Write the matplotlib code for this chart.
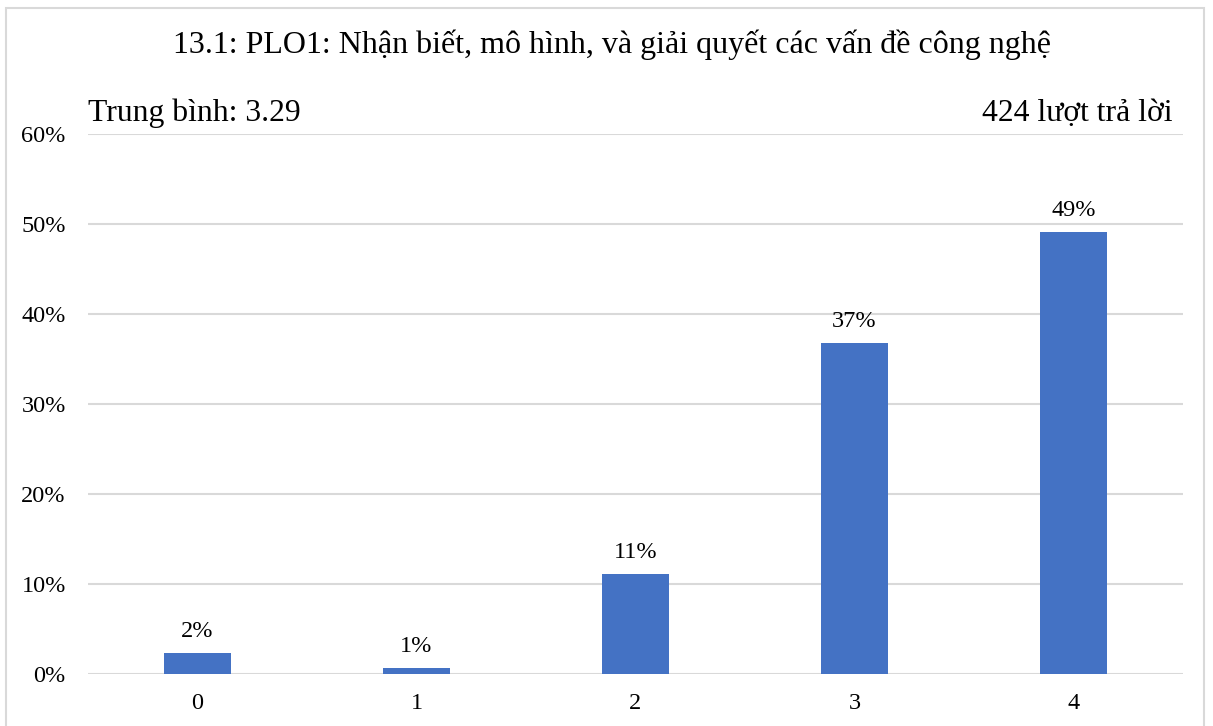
import matplotlib.pyplot as plt
from matplotlib.patches import Rectangle
from matplotlib.ticker import PercentFormatter

# responses per score (0..4)
scores = ["0", "1", "2", "3", "4"]
counts = [10, 3, 47, 156, 208]

title = "13.1: PLO1: Nhận biết, mô hình, và giải quyết các vấn đề công nghệ"
total = sum(counts)
shares = [c / total for c in counts]
mean = sum(int(s) * c for s, c in zip(scores, counts)) / total

plt.rcParams['font.family'] = ['Liberation Serif', 'DejaVu Serif']

fig = plt.figure(figsize=(12.13, 7.26), dpi=100)
ax = fig.add_axes([88 / 1213, 52 / 726, 1095 / 1213, 540 / 726])

bars = ax.bar(scores, shares, width=0.31, color="#4472C4", zorder=3)
for b, v in zip(bars, shares):
    ax.annotate(f"{v:.0%}", (b.get_x() + b.get_width() / 2, v),
                xytext=(0, 8), textcoords="offset points",
                ha="center", va="bottom", fontsize=17.5)

ax.set_ylim(0, 0.6)
ax.set_yticks([0, 0.1, 0.2, 0.3, 0.4, 0.5, 0.6])
ax.yaxis.set_major_formatter(PercentFormatter(1.0, decimals=0))
ax.set_xlim(-0.5, 4.5)
ax.grid(axis="y", color="#d9d9d9", linewidth=1.5, zorder=0)
for s in ax.spines.values():
    s.set_visible(False)
ax.tick_params(length=0, labelsize=17.5)
ax.tick_params(axis="y", pad=16)
ax.tick_params(axis="x", pad=14)

fig.text(612 / 1213, 1 - 45 / 726, title, ha="center", va="center", fontsize=23)
fig.text(88 / 1213, 1 - 113 / 726, f"Trung bình: {int(mean * 100) / 100:.2f}",
         ha="left", va="center", fontsize=22.8)
fig.text(1172 / 1213, 1 - 113 / 726, f"{total} lượt trả lời",
         ha="right", va="center", fontsize=22.8)

# light frame round the chart
fig.patches.append(Rectangle((6 / 1213, -0.05), 1198 / 1213, 1.05 - 8 / 726,
                             transform=fig.transFigure, fill=False,
                             edgecolor="#d9d9d9", linewidth=1.5))

fig.savefig("out.png", dpi=100)
